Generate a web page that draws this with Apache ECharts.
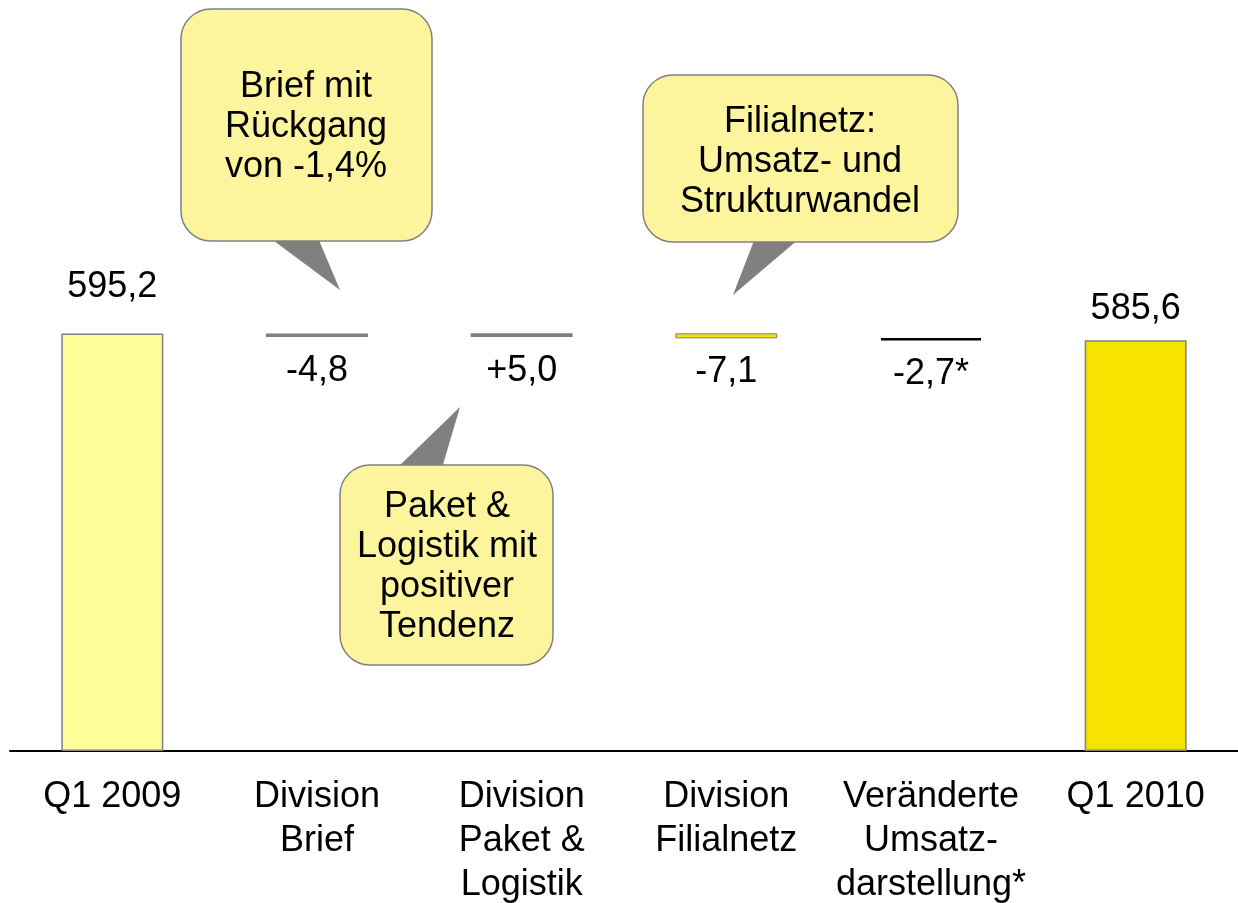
<!DOCTYPE html>
<html>
<head>
<meta charset="utf-8">
<script src="https://cdn.jsdelivr.net/npm/echarts@6/dist/echarts.min.js"></script>
<style>
  html, body { margin: 0; padding: 0; background: #fff; }
  #chart { width: 1238px; height: 903px; }
</style>
</head>
<body>
<div id="chart"></div>
<script>
// Kategorien und Werte (Mio. EUR)
var categories = ['Q1 2009', 'Division\nBrief', 'Division\nPaket &\nLogistik', 'Division\nFilialnetz', 'Veränderte\nUmsatz-\ndarstellung*', 'Q1 2010'];
var values = [595.2, -4.8, 5.0, -7.1, -2.7, 585.6];
var isTotal = [true, false, false, false, false, true];
var valueLabels = ['595,2', '-4,8', '+5,0', '-7,1', '-2,7*', '585,6'];
var barColors = ['#ffff99', '#808078', '#808078', '#f6e400', '#000000', '#f6e400'];
var barBorders = ['#808080', '#808078', '#808078', '#808080', '#000000', '#808080'];
var borderWidths = [1.5, 2, 2, 1, 2.5, 1.5];
var totalLabelDist = [28, 0, 0, 0, 0, 13];

// Wasserfall: unsichtbarer Sockel + sichtbarer Balken
var baseData = [];
var barData = [];
var running = 0;
values.forEach(function(v, i){
	var base, h;
	if(isTotal[i]){
		base = 0; h = v; running = v;
	}else if(v < 0){
		base = running + v; h = -v; running += v;
	}else{
		base = running; h = v; running += v;
	}
	baseData.push(base);
	barData.push({
		value: h,
		itemStyle: {
			color: barColors[i],
			borderColor: barBorders[i],
			borderWidth: borderWidths[i]
		},
		label: {
			show: true,
			position: isTotal[i] ? 'top' : 'bottom',
			distance: isTotal[i] ? totalLabelDist[i] : 16,
			formatter: valueLabels[i]
		}
	});
});

var font = '"Liberation Sans", Arial, sans-serif';

// Sprechblasen
function bubble(x, y, w, h, tip, text, cx, cy){
	return [
		{ type: 'polygon', z: 10, shape: { points: tip }, style: { fill: '#808080' } },
		{ type: 'rect', z: 11, shape: { x: x, y: y, width: w, height: h, r: 30 },
		  style: { fill: '#fdf49e', stroke: '#808080', lineWidth: 1.5 } },
		{ type: 'text', z: 12, x: cx, y: cy,
		  style: { text: text, align: 'center', verticalAlign: 'middle',
		           font: '36px ' + font, lineHeight: 40, fill: '#000' } }
	];
}

var graphics = []
	.concat(bubble(181, 9, 251, 232, [[270, 238], [318, 238], [340, 290]],
		'Brief mit\nRückgang\nvon -1,4%', 306, 127))
	.concat(bubble(340, 465, 213, 200, [[397, 468], [442, 468], [460, 407]],
		'Paket &\nLogistik mit\npositiver\nTendenz', 447, 567))
	.concat(bubble(643, 75, 315, 167, [[755, 238], [800, 238], [733, 295]],
		'Filialnetz:\nUmsatz- und\nStrukturwandel', 800, 162));

var myChart = echarts.init(document.getElementById('chart'));
var option = {
	animation: false,
	textStyle: { fontFamily: font },
	grid: { left: 10, right: 0, top: 260, bottom: 152, outerBoundsMode: 'none', containLabel: false },
	xAxis: {
		type: 'category',
		data: categories,
		axisLine: { lineStyle: { color: '#000', width: 2 } },
		axisTick: { show: false },
		axisLabel: {
			interval: 0, color: '#000', fontSize: 36, lineHeight: 44,
			margin: 24, fontFamily: font
		}
	},
	yAxis: {
		type: 'value', min: 0, max: 700, show: false,
		splitLine: { show: false }
	},
	series: [{
		name: 'Sockel',
		type: 'bar',
		stack: 'w',
		barWidth: 102,
		itemStyle: { color: 'transparent' },
		silent: true,
		data: baseData
	}, {
		name: 'Umsatz',
		type: 'bar',
		stack: 'w',
		barWidth: 102,
		label: { color: '#000', fontSize: 36, fontFamily: font },
		data: barData
	}],
	graphic: graphics
};
myChart.setOption(option);
</script>
</body>
</html>
